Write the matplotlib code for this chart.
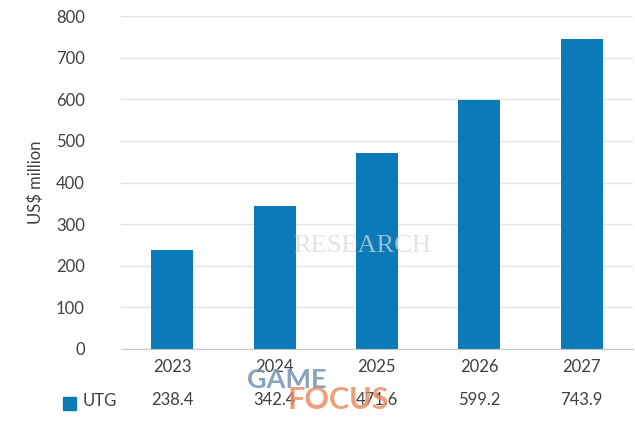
import matplotlib
matplotlib.use("Agg")
import matplotlib.pyplot as plt
from matplotlib.patches import Rectangle

years = ["2023", "2024", "2025", "2026", "2027"]
utg = [238.4, 342.4, 471.6, 599.2, 743.9]
series_name = "UTG"
y_ticks = [0, 100, 200, 300, 400, 500, 600, 700, 800]

BAR = "#0a7bb8"
TXT = "#404040"

plt.rcParams["font.family"] = ["Lato", "DejaVu Sans"]

fig = plt.figure(figsize=(6.35, 4.23), dpi=100)
ax = fig.add_axes([0.1906, 0.175, 0.806, 0.787])

x = list(range(len(years)))
ax.bar(x, utg, width=0.41, color=BAR, zorder=3)
ax.set_xlim(-0.5, len(years) - 0.5)
ax.set_ylim(0, 800)
ax.set_yticks(y_ticks)
ax.set_yticklabels([str(t) for t in y_ticks], fontsize=12, color=TXT)
ax.set_xticks(x)
ax.set_xticklabels(years, fontsize=12, color=TXT)
ax.tick_params(length=0, axis="y", pad=26)
ax.tick_params(length=0, axis="x", pad=7)
ax.yaxis.grid(True, color="#e3e3e3", linewidth=1, zorder=0)
for s in ("top", "right", "left"):
    ax.spines[s].set_visible(False)
ax.spines["bottom"].set_color("#c8c8c8")
ax.spines["bottom"].set_zorder(4)
ax.set_ylabel("US$ million", fontsize=12, color=TXT)
ax.yaxis.set_label_coords(-0.15, 0.5)

# data table row under the axis
for xi, v in zip(x, utg):
    ax.annotate(f"{v}", xy=(xi, 0), xycoords=("data", "axes fraction"),
                xytext=(0, -37), textcoords="offset points",
                ha="center", va="center", fontsize=12, color=TXT)
fig.patches.append(Rectangle((63 / 635, 1 - 410 / 423), 13 / 635, 13 / 423,
                             transform=fig.transFigure, color=BAR))
fig.text(83 / 635, 1 - 401 / 423, series_name, fontsize=12, color=TXT,
         ha="left", va="center")

# watermarks
fig.text(293 / 635, 1 - 246 / 423, "RESEARCH", fontsize=19, color="#d8d8d8",
         family="Liberation Serif", ha="left", va="center", alpha=0.7, zorder=5)
fig.text(247 / 635, 1 - 380 / 423, "GAME", fontsize=19.5, color="#7f98b5",
         weight="bold", ha="left", va="center", alpha=0.9, zorder=5)
fig.text(287 / 635, 1 - 400 / 423, "FOCUS", fontsize=22, color="#e8875a",
         weight="bold", ha="left", va="center", alpha=0.8, zorder=5)

fig.savefig("out.png", dpi=100)
